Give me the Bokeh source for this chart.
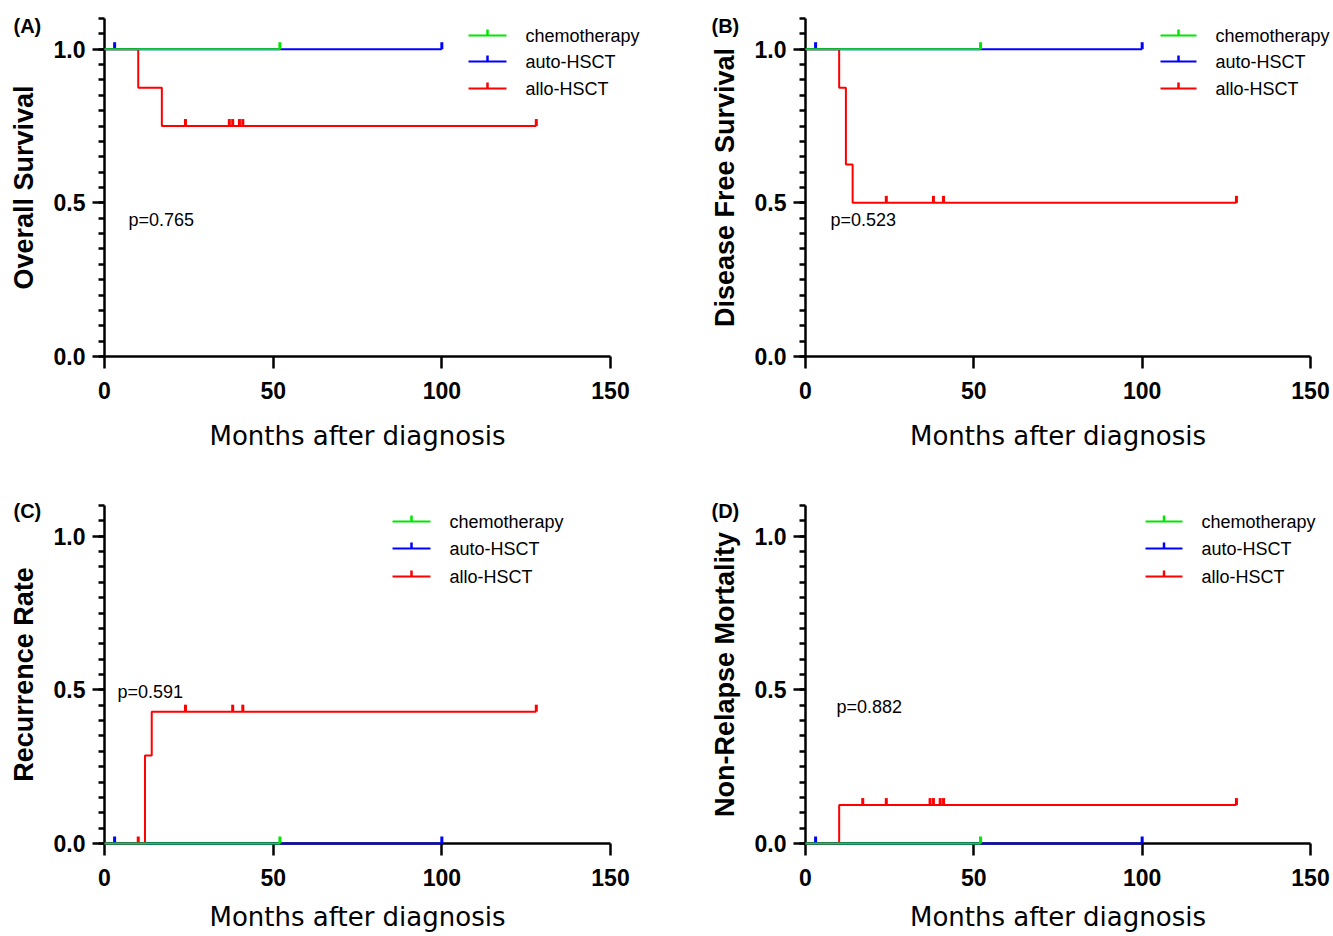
import numpy as np
from bokeh.plotting import figure
from bokeh.models import Range1d, FixedTicker, Label, NumeralTickFormatter
from bokeh.layouts import column, row
from bokeh.embed import file_html
from bokeh.resources import INLINE

# ---------------- data ----------------
series_names = ["chemotherapy", "auto-HSCT", "allo-HSCT"]
series_colors = ["#00E600", "#0000FF", "#FF0000"]

x_ticks = [0, 50, 100, 150]
y_ticks = [0.0, 0.5, 1.0]

# (A) Overall Survival
os_chemo_t = [0, 52]
os_chemo_s = [1.0, 1.0]
os_chemo_cens = [52]
os_auto_t = [0, 100]
os_auto_s = [1.0, 1.0]
os_auto_cens = [3, 100]
os_allo_t = [0, 10, 17, 128]
os_allo_s = [1.0, 0.875, 0.75, 0.75]
os_allo_cens = [24, 37, 38, 40, 41, 128]

# (B) Disease Free Survival
dfs_chemo_t = [0, 52]
dfs_chemo_s = [1.0, 1.0]
dfs_chemo_cens = [52]
dfs_auto_t = [0, 100]
dfs_auto_s = [1.0, 1.0]
dfs_auto_cens = [3, 100]
dfs_allo_t = [0, 10, 12, 14, 128]
dfs_allo_s = [1.0, 0.875, 0.625, 0.5, 0.5]
dfs_allo_cens = [24, 38, 41, 128]

# (C) Recurrence Rate
rr_chemo_t = [0, 52]
rr_chemo_s = [0.0, 0.0]
rr_chemo_cens = [52]
rr_auto_t = [0, 100]
rr_auto_s = [0.0, 0.0]
rr_auto_cens = [3, 100]
rr_allo_t = [0, 12, 14, 128]
rr_allo_s = [0.0, 0.286, 0.429, 0.429]
rr_allo_cens = [10, 24, 38, 41, 128]

# (D) Non-Relapse Mortality
nrm_chemo_t = [0, 52]
nrm_chemo_s = [0.0, 0.0]
nrm_chemo_cens = [52]
nrm_auto_t = [0, 100]
nrm_auto_s = [0.0, 0.0]
nrm_auto_cens = [3, 100]
nrm_allo_t = [0, 10, 128]
nrm_allo_s = [0.0, 0.125, 0.125]
nrm_allo_cens = [17, 24, 37, 38, 40, 41, 128]

panel_letters = ["(A)", "(B)", "(C)", "(D)"]
y_titles = ["Overall Survival", "Disease Free Survival", "Recurrence Rate", "Non-Relapse Mortality"]
p_values = ["p=0.765", "p=0.523", "p=0.591", "p=0.882"]
x_title = "Months after diagnosis"

panels = [
    [(os_chemo_t, os_chemo_s, os_chemo_cens), (os_auto_t, os_auto_s, os_auto_cens), (os_allo_t, os_allo_s, os_allo_cens)],
    [(dfs_chemo_t, dfs_chemo_s, dfs_chemo_cens), (dfs_auto_t, dfs_auto_s, dfs_auto_cens), (dfs_allo_t, dfs_allo_s, dfs_allo_cens)],
    [(rr_chemo_t, rr_chemo_s, rr_chemo_cens), (rr_auto_t, rr_auto_s, rr_auto_cens), (rr_allo_t, rr_allo_s, rr_allo_cens)],
    [(nrm_chemo_t, nrm_chemo_s, nrm_chemo_cens), (nrm_auto_t, nrm_auto_s, nrm_auto_cens), (nrm_allo_t, nrm_allo_s, nrm_allo_cens)],
]

# ---------------- layout / style (pixels) ----------------
FONT = "Liberation Sans"
X_MAX = 150.0
Y_MAX = 1.1

# canvas size, page offset, plot-area edges inside the canvas
geom = [
    dict(w=650, h=456, ox=0, oy=0, fl=104, fr=610, ft=18, fb=356, xts=19),
    dict(w=682, h=456, ox=650, oy=0, fl=155, fr=660, ft=18, fb=356, xts=19),
    dict(w=650, h=479, ox=0, oy=456, fl=104, fr=610, ft=49, fb=387, xts=13),
    dict(w=682, h=479, ox=650, oy=456, fl=155, fr=660, ft=49, fb=387, xts=13),
]
# text / legend placement in page pixels
letter_pos = [(13, 25), (711, 25), (13, 510), (711, 510)]
pval_pos = [(128, 219), (830, 219), (117, 691), (836, 706)]
legend_px = [
    dict(x0=468, x1=506, tx=525, rows=(35, 61, 88)),
    dict(x0=1160, x1=1196, tx=1215, rows=(35, 61, 88)),
    dict(x0=392, x1=430, tx=449, rows=(521, 548, 576)),
    dict(x0=1145, x1=1182, tx=1201, rows=(521, 548, 576)),
]
CENSOR_PX = 7
LEG_TICK_PX = 6


def level_at(ts, ss, c):
    lvl = ss[0]
    for t, s in zip(ts, ss):
        if t <= c:
            lvl = s
    return lvl


figs = []
for i in range(4):
    g = geom[i]
    kx = X_MAX / (g["fr"] - g["fl"])   # data per pixel, x
    ky = Y_MAX / (g["fb"] - g["ft"])   # data per pixel, y

    def dx(px_page, g=g, kx=kx):
        return (px_page - g["ox"] - g["fl"]) * kx

    def dy(py_page, g=g, ky=ky):
        return (g["fb"] - (py_page - g["oy"])) * ky

    p = figure(width=g["w"], height=g["h"],
               x_range=Range1d(-g["fl"] * kx, (g["w"] - g["fl"]) * kx),
               y_range=Range1d(-(g["h"] - g["fb"]) * ky, g["fb"] * ky),
               output_backend="svg", toolbar_location=None,
               min_border=0, min_border_left=0, min_border_right=0,
               min_border_top=0, min_border_bottom=0)
    p.xgrid.visible = False
    p.ygrid.visible = False
    p.outline_line_color = None
    p.background_fill_color = "white"
    p.border_fill_color = "white"

    for ax in (p.xaxis[0], p.yaxis[0]):
        ax.fixed_location = 0
        ax.axis_line_width = 2.5
        ax.axis_line_color = "black"
        ax.major_tick_line_width = 2.5
        ax.minor_tick_line_width = 2.5
        ax.major_tick_out = 12
        ax.major_tick_in = 0
        ax.minor_tick_in = 0
        ax.major_label_text_font = FONT
        ax.major_label_text_font_size = "23px"
        ax.major_label_text_font_style = "bold"
        ax.major_label_text_color = "black"
        ax.axis_label_text_color = "black"

    p.xaxis.bounds = (0, X_MAX)
    p.xaxis.ticker = FixedTicker(ticks=x_ticks, minor_ticks=[])
    p.xaxis.minor_tick_out = 0
    p.xaxis.major_label_standoff = 13
    p.xaxis.axis_label = x_title
    p.xaxis.axis_label_text_font = "DejaVu Sans"
    p.xaxis.axis_label_text_font_size = "26px"
    p.xaxis.axis_label_text_font_style = "normal"
    p.xaxis.axis_label_standoff = g["xts"]

    p.yaxis.bounds = (0, Y_MAX)
    p.yaxis.ticker = FixedTicker(ticks=y_ticks, minor_ticks=[round(0.05 * k, 2) for k in range(23)])
    p.yaxis.formatter = NumeralTickFormatter(format="0.0")
    p.yaxis.minor_tick_out = 6
    p.yaxis.major_label_standoff = 7
    p.yaxis.axis_label = y_titles[i]
    p.yaxis.axis_label_text_font = FONT
    p.yaxis.axis_label_text_font_size = "27px"
    p.yaxis.axis_label_text_font_style = "bold"
    p.yaxis.axis_label_standoff = 12

    # curves: allo first, then auto, chemo on top
    for j in (2, 1, 0):
        ts, ss, cens = panels[i][j]
        col = series_colors[j]
        p.step(ts, ss, mode="after", line_color=col, line_width=2, level="overlay")
        cy = [level_at(ts, ss, c) + CENSOR_PX / 2 * ky for c in cens]
        p.scatter(cens, cy, marker="dash", angle=np.pi / 2, size=CENSOR_PX,
                  line_color=col, line_width=3, level="overlay")

    # legend (drawn by hand so that it can overhang the axis end)
    L = legend_px[i]
    for j in range(3):
        yr = dy(L["rows"][j])
        col = series_colors[j]
        p.segment(x0=[dx(L["x0"])], y0=[yr], x1=[dx(L["x1"])], y1=[yr],
                  line_color=col, line_width=2)
        p.scatter([dx((L["x0"] + L["x1"]) / 2)], [yr + LEG_TICK_PX / 2 * ky],
                  marker="dash", angle=np.pi / 2, size=LEG_TICK_PX,
                  line_color=col, line_width=2.5)
        p.add_layout(Label(x=dx(L["tx"]), y=yr, text=series_names[j],
                           text_font=FONT, text_font_size="18px",
                           text_baseline="middle", text_color="black"))

    lx, ly = letter_pos[i]
    p.add_layout(Label(x=dx(lx), y=dy(ly), text=panel_letters[i], text_font=FONT,
                       text_font_size="20px", text_font_style="bold",
                       text_baseline="middle", text_color="black"))
    px_, py_ = pval_pos[i]
    p.add_layout(Label(x=dx(px_), y=dy(py_), text=p_values[i], text_font=FONT,
                       text_font_size="18px", text_baseline="middle",
                       text_color="black"))
    figs.append(p)

layout = column(row(figs[0], figs[1]), row(figs[2], figs[3]))

with open("out.html", "w") as f:
    f.write(file_html(layout, INLINE))
